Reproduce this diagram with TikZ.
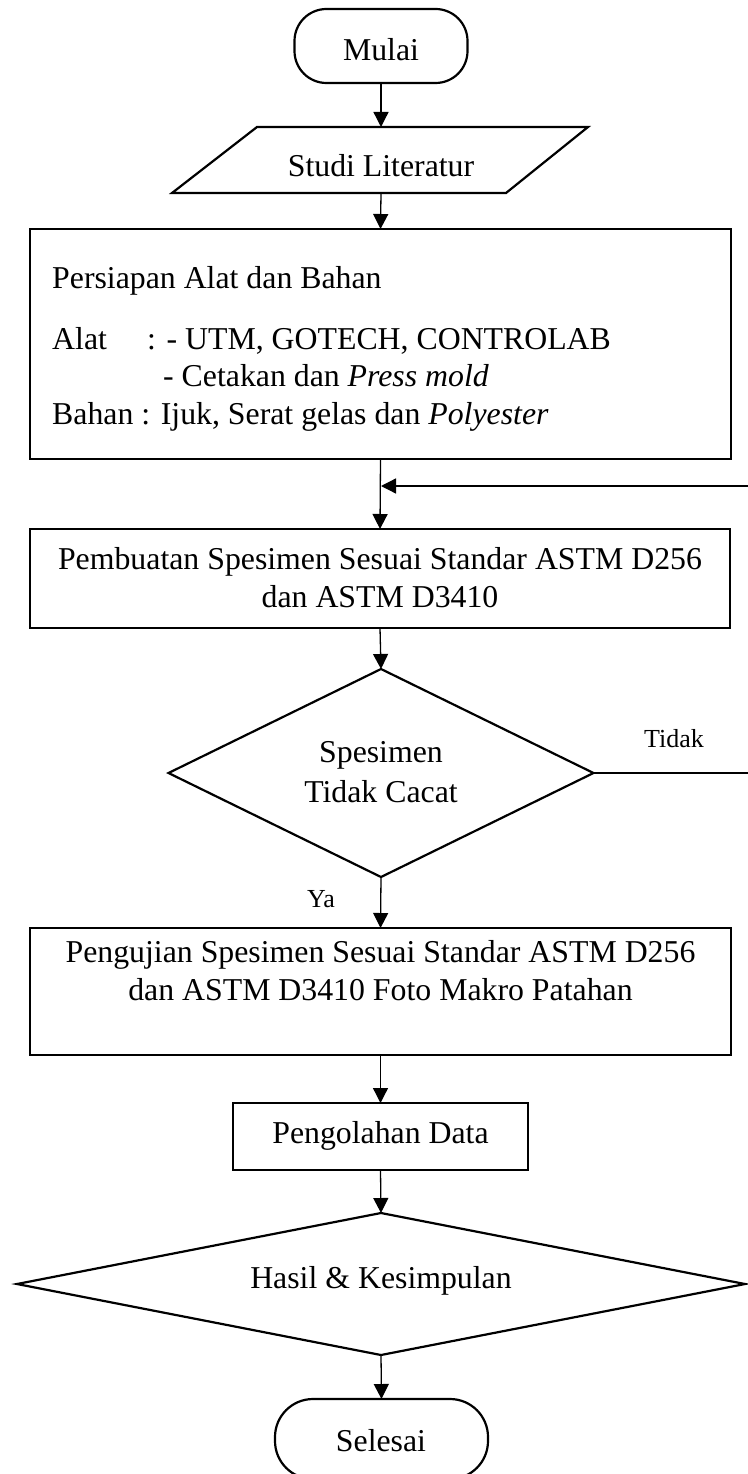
\documentclass[tikz,border=0pt]{standalone}
\usepackage{fontspec}
\setmainfont{Liberation Serif}
\usetikzlibrary{shapes.geometric,arrows.meta}
\begin{document}
\begin{tikzpicture}[x=1pt,y=-1pt,
  shp/.style={draw,line width=2.2pt,inner sep=0pt,outer sep=0pt},
  ghost/.style={inner sep=0pt,outer sep=0pt},
  conn/.style={line width=1.3pt,-{Triangle[width=15pt,length=15pt]}},
  txt/.style={font=\fontsize{31.8}{38}\selectfont,anchor=base,inner sep=0pt},
  txtl/.style={txt,anchor=base west},
  lbl/.style={font=\fontsize{26}{30}\selectfont,anchor=base,inner sep=0pt}]
\useasboundingbox (0,0) rectangle (747,1474);

% shapes
\node[shp,rounded corners=32pt,minimum width=173pt,minimum height=74pt] (start) at (381,46) {};
\node[ghost,minimum width=10pt,minimum height=66pt] (lit) at (381,160) {};
\draw[line width=2.2pt,line join=miter] (257,127) -- (588,127) -- (506,193) -- (172,193) -- cycle;
\node[shp,minimum width=701pt,minimum height=230pt] (prep) at (380.5,344) {};
\node[shp,minimum width=700pt,minimum height=99pt] (make) at (380,578.5) {};
\node[shp,diamond,minimum width=425pt,minimum height=208pt] (dec) at (381,773) {};
\node[shp,minimum width=701pt,minimum height=127pt] (test) at (380.5,991.5) {};
\node[shp,minimum width=295pt,minimum height=67pt] (data) at (380.5,1136.5) {};
\node[shp,diamond,minimum width=728pt,minimum height=142pt] (res) at (381,1284) {};
\node[shp,rounded corners=38pt,minimum width=213pt,minimum height=80pt] (stop) at (381.5,1439) {};

% texts
\node[txt] (tstart) at (381,61) {Mulai};
\node[txt] (tlit) at (381,177) {Studi Literatur};
\node[txtl] (p1) at (52,288) {Persiapan Alat dan Bahan};
\node[txtl] (p2) at (52,349) {Alat};
\node[txtl] (p3) at (147,349) {: - UTM, GOTECH, CONTROLAB};
\node[txtl] (p4) at (163,386) {- Cetakan dan \textit{Press mold}};
\node[txtl] (p5) at (52,424) {Bahan : Ijuk, Serat gelas dan \textit{Polyester}};
\node[txt] (m1) at (380,569) {Pembuatan Spesimen Sesuai Standar ASTM D256};
\node[txt] (m2) at (380,607) {dan ASTM D3410};
\node[txt] (d1) at (381,762) {Spesimen};
\node[txt] (d2) at (381,802) {Tidak Cacat};
\node[txt] (u1) at (380.5,962) {Pengujian Spesimen Sesuai Standar ASTM D256};
\node[txt] (u2) at (380.5,1000) {dan ASTM D3410 Foto Makro Patahan};
\node[txt] (tdata) at (380.5,1143) {Pengolahan Data};
\node[txt] (tres) at (381,1288) {Hasil \& Kesimpulan};
\node[txt] (tstop) at (381,1451) {Selesai};
\node[lbl] (ya) at (321,907) {Ya};
\node[lbl] (tidak) at (674,747) {Tidak};

% connectors
\coordinate (fbR) at (749.5,773);
\coordinate (fbT) at (749.5,486);
\coordinate (fbJ) at (381,486);
\draw[conn] (start.south) -- (lit.north);
\draw[conn] (lit.south) -- (prep.north);
\draw[conn] (prep.south) -- (make.north);
\draw[conn] (make.south) -- (dec.north);
\draw[conn] (dec.east) -- (fbR) -- (fbT) -- (fbJ);
\draw[conn] (dec.south) -- (test.north);
\draw[conn] (test.south) -- (data.north);
\draw[conn] (data.south) -- (res.north);
\draw[conn] (res.south) -- (stop.north);
\end{tikzpicture}
\end{document}
